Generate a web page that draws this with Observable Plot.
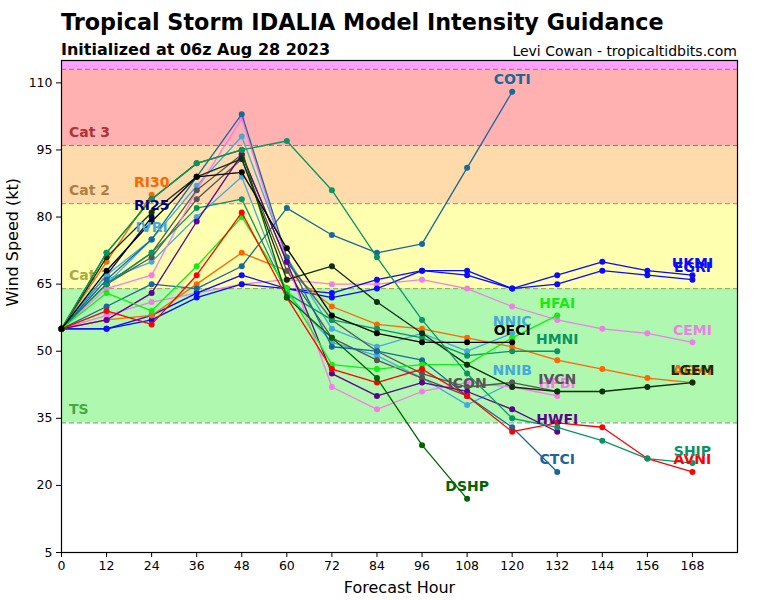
<!DOCTYPE html>
<html><head><meta charset="utf-8">
<script src="https://cdn.jsdelivr.net/npm/d3@7"></script>
<script src="https://cdn.jsdelivr.net/npm/@observablehq/plot@0.6"></script>
<style>
body{margin:0;background:#fff;font-family:"DejaVu Sans",sans-serif;}
#wrap{position:relative;width:768px;height:600px;}
#wrap .t{position:absolute;white-space:nowrap;color:#000;}
</style></head><body>
<div id="wrap">
<div class="t" style="left:61px;top:11px;font-size:22.3px;line-height:22px;font-weight:bold">Tropical Storm IDALIA Model Intensity Guidance</div>
<div class="t" style="left:61px;top:42px;font-size:16px;line-height:16px;font-weight:bold">Initialized at 06z Aug 28 2023</div>
<div class="t" style="right:31px;top:43.5px;font-size:14px;line-height:14px;">Levi Cowan - tropicaltidbits.com</div>
<div id="chart"></div>
</div>
<script>
// ---- data ----
const hours = [0,12,24,36,48,60,72,84,96,108,120,132,144,156,168];
const xTicks = [0,12,24,36,48,60,72,84,96,108,120,132,144,156,168];
const yTicks = [5,20,35,50,65,80,95,110];

const COTI = [55,60,65,64,69,82,76,72,74,91,108];
const CTCI = [55,66,75,89,103,71,51,50,48,40,33,23];
const SHIP = [55,72,84,92,95,97,86,71,57,45,35,33,30,26,25];
const DSHP = [55,72,84,92,95,62,53,44,29,17];
const HMNI = [55,65,72,82,84,63,57,55,53,49,50,50];
const LGEM = [55,71,81,89,93,66,69,61,54,47,42,41,41,42,43];
const OFCI = [55,68,79,89,90,73,58,54,52,52,52];
const IVCN = [55,65,72,86,94,70,57,50,45,42,43,41];
const ICON = [55,65,71,84,93,68,53,48,44,40];
const NNIC = [55,67,75,87,98,71,55,51,54,50,54];
const NNIB = [55,66,70,80,89,63,52,49,44,38,43];
const IVRI = [55,65,75];
const RI25 = [55,67,80];
const RI30 = [55,70,85];
const AEMI = [55,57,58,65,72,68,60,56,55,53,51,48,46,44,43];
const HFAI = [55,63,59,69,80,64,47,46,47,47,53,58];
const AVNI = [55,59,56,67,81,62,46,43,46,40,32,34,33,26,23];
const HWFI = [55,57,63,79,94,70,45,40,43,41,37,32];
const HFBI = [55,64,67,86,102,70,42,37,41,43,42,40];
const CEMI = [55,58,61,63,65,66,65,65,66,64,60,57,55,54,52];
const UKMI = [55,55,58,63,67,64,63,66,68,68,64,67,70,68,67];
const EGRI = [55,55,57,62,65,64,62,64,68,67,64,65,68,67,66];

const bandNames = ["TS","Cat 1","Cat 2","Cat 3","Cat 4"];
const bandLow  = [34,64,83,96,113];
const bandHigh = [64,83,96,113,115];

// ---- styles ----
const series = [
  ["CEMI",CEMI,"#f07ee8"],["UKMI",UKMI,"#0a0aff"],["EGRI",EGRI,"#0a0aff"],
  ["AEMI",AEMI,"#ff6600"],["RI30",RI30,"#ff6600"],["RI25",RI25,"#000080"],["IVRI",IVRI,"#44aadd"],
  ["NNIB",NNIB,"#44aadd"],["NNIC",NNIC,"#44aadd"],
  ["ICON",ICON,"#555555"],["HFBI",HFBI,"#ff77ee"],["IVCN",IVCN,"#555555"],
  ["HMNI",HMNI,"#0a9464"],["COTI",COTI,"#17699c"],["CTCI",CTCI,"#17699c"],
  ["HWFI",HWFI,"#600090"],["HFAI",HFAI,"#11ee11"],["AVNI",AVNI,"#ff0000"],
  ["LGEM",LGEM,"#0f2f0f"],["DSHP",DSHP,"#006400"],["SHIP",SHIP,"#0a9464"],["OFCI",OFCI,"#000000"]
];
const bandFill = ["#aff8af","#ffffb0","#ffdbab","#ffb0b0","#ffa2ff"];
const bandLine = ["#70b870","#aaaa5a","#c4a068","#c06464","#cc5fcc"];
const bandText = ["#44aa44","#aaaa44","#b07d40","#b03232",null];

const bands = bandNames.map((n,i)=>({name:n, lo:bandLow[i], hi:bandHigh[i], fill:bandFill[i], line:bandLine[i], tc:bandText[i]}));

const marks = [
  Plot.rect(bands, {y1:"lo", y2:"hi", fill:"fill"}),
  Plot.ruleY(bands, {y:"lo", stroke:"line", strokeWidth:1.2, strokeDasharray:"5,3"}),
  Plot.text(bands.filter(b=>b.tc), {x:()=>2, y:d=>d.lo+3, text:"name", fill:"tc", textAnchor:"start", fontWeight:"bold", fontSize:14})
];
const labels = [];
for (const [name, vals, col] of series) {
  const rows = vals.map((v,i)=>({hour:hours[i], value:v}));
  marks.push(Plot.line(rows, {x:"hour", y:"value", stroke:col, strokeWidth:1.3}));
  marks.push(Plot.dot(rows, {x:"hour", y:"value", fill:col, r:3}));
  labels.push({name, hour:rows[rows.length-1].hour, value:rows[rows.length-1].value, col});
}
marks.push(Plot.text(labels, {x:"hour", y:"value", text:"name", fill:"col", dy:-12, fontWeight:"bold", fontSize:14}));
marks.push(Plot.frame({stroke:"#000", strokeWidth:1.2}));
marks.push(Plot.axisX({ticks:xTicks, tickSize:5, tickPadding:4, label:null, fontSize:12.5}));
marks.push(Plot.axisY({ticks:yTicks, tickSize:5, tickPadding:4, label:null, fontSize:12.5}));
marks.push(Plot.text(["Forecast Hour"], {frameAnchor:"bottom", dy:40, fontSize:16}));
marks.push(Plot.text(["Wind Speed (kt)"], {frameAnchor:"left", dx:-49, rotate:-90, fontSize:16}));

const chart = Plot.plot({
  width:768, height:600,
  marginTop:60, marginLeft:61, marginRight:31, marginBottom:48,
  x:{domain:[0,180]},
  y:{domain:[5,115]},
  color:{type:"identity"},
  style:{fontFamily:"DejaVu Sans", fontSize:"12.5px", color:"#000", background:"transparent"},
  marks
});
document.getElementById("chart").appendChild(chart);
</script>
</body></html>
